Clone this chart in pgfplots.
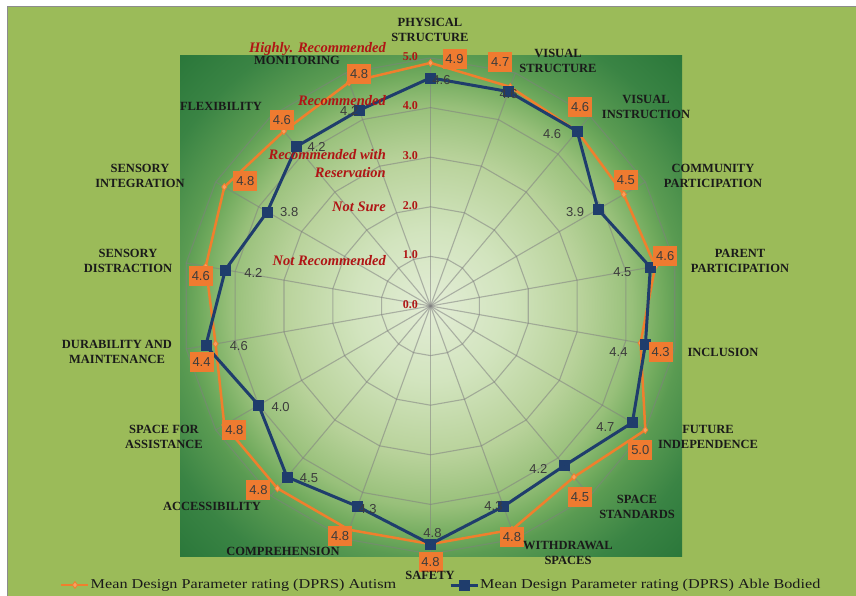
\documentclass[border=0pt]{standalone}
\usepackage{pgfplots}
\pgfplotsset{compat=1.18}
\usepackage{pgfplotstable}
\usepackage{fontspec}
\setmainfont{Liberation Serif}
\newfontfamily\sansnum{Liberation Sans}
\newfontfamily\legfont{Liberation Serif}[FakeStretch=1.2]

\definecolor{outgreen}{HTML}{9BBB59}
\definecolor{bordergray}{HTML}{8C8C8C}
\definecolor{c0}{HTML}{E3EDD6}
\definecolor{c1}{HTML}{D2E4BE}
\definecolor{c2}{HTML}{B8D29A}
\definecolor{c3}{HTML}{98C07A}
\definecolor{c4}{HTML}{72AB5E}
\definecolor{c5}{HTML}{5A9B52}
\definecolor{c6}{HTML}{3A8444}
\definecolor{c7}{HTML}{2A773A}
\definecolor{orangeline}{HTML}{F07F2D}
\definecolor{orangemark}{HTML}{F8A060}
\definecolor{orangebox}{HTML}{EF7B30}
\definecolor{blueline}{HTML}{1F3D6C}
\definecolor{labeltext}{HTML}{3C3C3C}
\definecolor{reddark}{HTML}{B01515}
\definecolor{textdark}{HTML}{1A1A1A}

% the shaded path is fitted into [-25bp,25bp]: 25bp = half the plot area
\pgfdeclareradialshading{plotbg}{\pgfpoint{0bp}{0bp}}{color(0bp)=(c0); color(7.5bp)=(c1); color(15bp)=(c2); color(20bp)=(c3); color(23bp)=(c4); color(25bp)=(c5); color(30bp)=(c6); color(35.5bp)=(c7); color(50bp)=(c7)}

\pgfplotstableread{
ang aut able aox aoy box boy
90 4.9 4.6 24 4 11 -2
70 4.7 4.6 -10 25 0 -2
50 4.6 4.6 3 24 -25 -3
30 4.5 3.9 2 14 -23 -3
10 4.6 4.5 10 10 -28 -5
-10 4.3 4.4 20 -9 -27 -8
-30 5.0 4.7 -5 -20 -27 -4
-50 4.5 4.2 6 -20 -26 -3
-70 4.8 4.3 0 -7 -10 0
-90 4.8 4.8 0 -18 2 11
-110 4.8 4.3 -9 -6 10 -3
-130 4.8 4.5 -19 -2 22 -1
-150 4.8 4.0 10 -5 22 -2
-170 4.4 4.6 -14 -18 33 0
170 4.6 4.2 -5 -10 28 -3
150 4.8 3.8 21 6 22 0
130 4.6 4.2 -2 11 20 -1
110 4.8 4.2 10 8 -10 -1
}\radar

\tikzset{
  gridline/.style={draw=black!50, draw opacity=0.55, line width=1.1bp},
  catlabel/.style={font=\bfseries\fontsize{12.5bp}{15bp}\selectfont, text=textdark, align=center, inner sep=0pt},
  redlabel/.style={font=\bfseries\itshape\fontsize{14.5bp}{18bp}\selectfont, text=reddark, align=right, anchor=east, inner sep=0pt},
}

\begin{document}
\begin{tikzpicture}
\useasboundingbox (0,0) rectangle (856bp,596bp);
\fill[white] (0,0) rectangle (856bp,596bp);
\fill[outgreen] (7.5bp,0) rectangle (856bp,589.5bp);
\draw[bordergray, line width=1bp] (7.5bp,0) -- (7.5bp,589.5bp) -- (856bp,589.5bp);
\shade[shading=plotbg] (180bp,39bp) rectangle (682bp,540bp);
\begin{axis}[
  at={(180bp,39bp)}, anchor=south west,
  scale only axis, width=502bp, height=501bp,
  xmin=-5.05, xmax=5.07, ymin=-5.06, ymax=5.04,
  axis line style={draw=none}, xtick=\empty, ytick=\empty,
  clip=false,
  /pgf/number format/assume math mode=true,
  legend columns=2,
  legend style={at={(-0.239,-0.0559)}, anchor=west, draw=none, fill=none, inner sep=0pt,
    font=\legfont\fontsize{13.5bp}{16bp}\selectfont, text=textdark, nodes={inner sep=1bp}},
  legend image code/.code={\draw[mark repeat=2, mark phase=2, #1] plot coordinates {(0bp,0bp) (13.5bp,0bp) (27bp,0bp)};},
]
% grid rings
\pgfplotsinvokeforeach{1,2,3,4,5}{
  \addplot[gridline, forget plot, mark=none] table[x expr={#1*cos(\thisrow{ang})}, y expr={#1*sin(\thisrow{ang})}] {\radar} -- cycle;
}
% spokes
\pgfplotsinvokeforeach{90,70,50,30,10,-10,-30,-50,-70,-90,-110,-130,-150,-170,170,150,130,110}{
  \addplot[gridline, forget plot, mark=none] coordinates {(0,0) ({5*cos(#1)},{5*sin(#1)})};
}
% series
\addplot[orangeline, line width=2.5bp, mark=diamond*, mark size=3.4bp,
  mark options={fill=orangemark, draw=orangeline, line width=0.8bp}]
  table[x expr={\thisrow{aut}*cos(\thisrow{ang})}, y expr={\thisrow{aut}*sin(\thisrow{ang})}] {\radar} -- cycle;
\addlegendentry{Mean Design Parameter rating (DPRS) Autism\hspace{52bp}\mbox{}}
\addplot[blueline, line width=3bp, mark=square*, mark size=5bp,
  mark options={fill=blueline, draw=blueline, line width=0.5bp}]
  table[x expr={\thisrow{able}*cos(\thisrow{ang})}, y expr={\thisrow{able}*sin(\thisrow{ang})}] {\radar} -- cycle;
\addlegendentry{Mean Design Parameter rating (DPRS) Able Bodied}
% blue labels
\addplot[forget plot, only marks, mark=*, mark size=0pt, mark options={draw=none, fill=none},
  point meta=explicit,
  nodes near coords={\pgfmathprintnumber[fixed, fixed zerofill, precision=1]{\pgfplotspointmeta}},
  nodes near coords align={anchor=center},
  visualization depends on={\thisrow{box}\as\blx},
  visualization depends on={\thisrow{boy}\as\bly},
  every node near coord/.append style={anchor=center, xshift=\blx bp, yshift=\bly bp, inner sep=0pt,
    text=labeltext, font=\sansnum\fontsize{13bp}{13bp}\selectfont}]
  table[x expr={\thisrow{able}*cos(\thisrow{ang})}, y expr={\thisrow{able}*sin(\thisrow{ang})}, meta=able] {\radar};
% orange labels
\addplot[forget plot, only marks, mark=*, mark size=0pt, mark options={draw=none, fill=none},
  point meta=explicit,
  nodes near coords={\pgfmathprintnumber[fixed, fixed zerofill, precision=1]{\pgfplotspointmeta}},
  nodes near coords align={anchor=center},
  visualization depends on={\thisrow{aox}\as\olx},
  visualization depends on={\thisrow{aoy}\as\oly},
  every node near coord/.append style={anchor=center, xshift=\olx bp, yshift=\oly bp, inner sep=0pt,
    fill=orangebox, minimum width=24bp, minimum height=20bp,
    text=labeltext, font=\sansnum\fontsize{13bp}{13bp}\selectfont}]
  table[x expr={\thisrow{aut}*cos(\thisrow{ang})}, y expr={\thisrow{aut}*sin(\thisrow{ang})}, meta=aut] {\radar};
% scale labels
\addplot[forget plot, only marks, mark=*, mark size=0pt, mark options={draw=none, fill=none},
  point meta=y,
  nodes near coords={\pgfmathprintnumber[fixed, fixed zerofill, precision=1]{\pgfplotspointmeta}},
  nodes near coords align={anchor=east},
  every node near coord/.append style={anchor=east, xshift=-12.5bp, yshift=1.5bp, inner sep=0pt,
    text=reddark, font=\bfseries\fontsize{12bp}{12bp}\selectfont}]
  coordinates {(0,0) (0,1) (0,2) (0,3) (0,4) (0,5)};
\end{axis}
% category labels
\node[catlabel] at (430bp,566bp) {PHYSICAL\\STRUCTURE};
\node[catlabel] at (558bp,535bp) {VISUAL\\STRUCTURE};
\node[catlabel] at (646bp,489bp) {VISUAL\\INSTRUCTION};
\node[catlabel] at (713bp,420bp) {COMMUNITY\\PARTICIPATION};
\node[catlabel] at (740bp,335bp) {PARENT\\PARTICIPATION};
\node[catlabel] at (723bp,244bp) {INCLUSION};
\node[catlabel] at (708bp,159bp) {FUTURE\\INDEPENDENCE};
\node[catlabel] at (637bp,89bp) {SPACE\\STANDARDS};
\node[catlabel] at (568bp,43bp) {WITHDRAWAL\\SPACES};
\node[catlabel] at (430bp,21bp) {SAFETY};
\node[catlabel] at (283bp,45bp) {COMPREHENSION};
\node[catlabel] at (212bp,90bp) {ACCESSIBILITY};
\node[catlabel] at (164bp,159bp) {SPACE FOR\\ASSISTANCE};
\node[catlabel] at (117bp,244bp) {DURABILITY AND\\MAINTENANCE};
\node[catlabel] at (128bp,335bp) {SENSORY\\DISTRACTION};
\node[catlabel] at (140bp,420bp) {SENSORY\\INTEGRATION};
\node[catlabel] at (221bp,490bp) {FLEXIBILITY};
\node[catlabel] at (297bp,536bp) {MONITORING};
% rating labels
\node[redlabel] at (386bp,547bp) {Highly. Recommended};
\node[redlabel] at (386bp,495bp) {Recommended};
\node[redlabel] at (386bp,432bp) {Recommended with\\Reservation};
\node[redlabel] at (386bp,389bp) {Not Sure};
\node[redlabel] at (386bp,335bp) {Not Recommended};
\end{tikzpicture}
\end{document}
